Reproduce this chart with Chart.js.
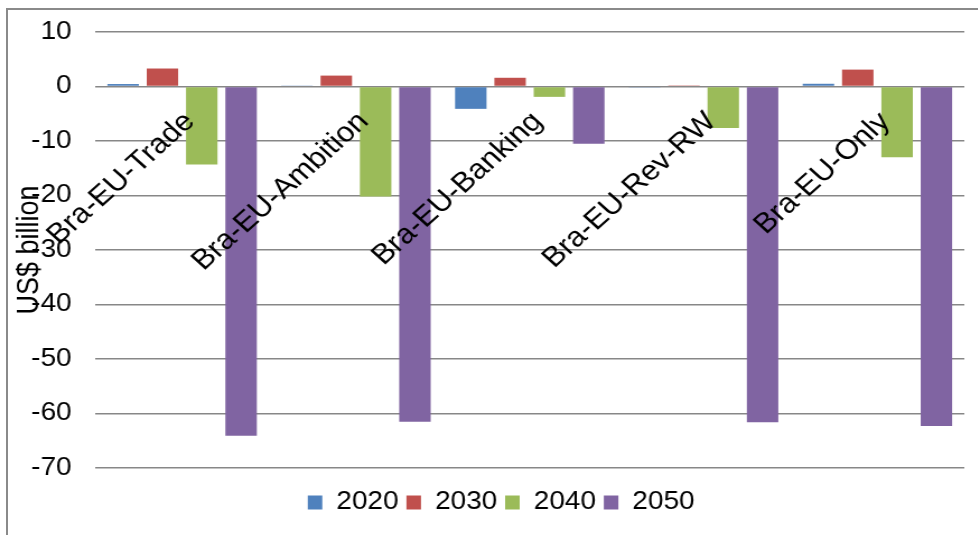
<!DOCTYPE html>
<html>
<head>
<meta charset="utf-8">
<script src="https://cdn.jsdelivr.net/npm/chart.js@4"></script>
<style>
    html, body { margin: 0; padding: 0; background: #fff; overflow: hidden; }
    #frame {
        position: absolute; left: 6px; top: 8px; width: 990px; height: 540px;
        border-left: 2px solid #8a8a8a; border-top: 2px solid #8a8a8a;
    }
    #chartBox {
        position: absolute; left: 0; top: 0; width: 873px; height: 535px;
        transform: scaleX(1.12); transform-origin: 0 0;
    }
</style>
</head>
<body>
<div id="frame"></div>
<div id="chartBox"><canvas id="scenarioChart" width="873" height="535"></canvas></div>
<script>
// Scenarios and yearly changes (US$ billion)
const scenarios = ['Bra-EU-Trade', 'Bra-EU-Ambition', 'Bra-EU-Banking', 'Bra-EU-Rev-RW', 'Bra-EU-Only'];
const years = ['2020', '2030', '2040', '2050'];
const values2020 = [0.45, 0.1, -4.1, -0.1, 0.5];
const values2030 = [3.3, 2.0, 1.6, 0.2, 3.1];
const values2040 = [-14.3, -20.2, -1.9, -7.6, -13.0];
const values2050 = [-64.1, -61.5, -10.5, -61.6, -62.3];
const yTicks = [10, 0, -10, -20, -30, -40, -50, -60, -70];

const seriesColors = ['#4F81BD', '#C0504D', '#9BBB59', '#8064A2'];
const fontFamily = '"Liberation Sans", Arial, sans-serif';

// Vertical axis title, drawn over the tick column
const yTitlePlugin = {
    id: 'yTitle',
    afterDraw(chart) {
        const { ctx, chartArea } = chart;
        ctx.save();
        ctx.translate(27, (chartArea.top + chartArea.bottom) / 2);
        ctx.rotate(-Math.PI / 2);
        ctx.font = '27px ' + fontFamily;
        ctx.fillStyle = '#000';
        ctx.textAlign = 'center';
        ctx.textBaseline = 'middle';
        ctx.fillText('US$ billion', 0, 0);
        ctx.restore();
    }
};

// Move the legend row a little lower and to the right of the canvas centre
const legendOffsetPlugin = {
    id: 'legendOffset',
    afterLayout(chart) {
        const lg = chart.legend;
        if (lg) {
            lg.top += 15;
            lg.bottom += 15;
            lg.left += 17;
            lg.right += 17;
        }
    }
};

const ctx = document.getElementById('scenarioChart').getContext('2d');
new Chart(ctx, {
    type: 'bar',
    data: {
        labels: scenarios,
        datasets: [values2020, values2030, values2040, values2050].map((vals, i) => ({
            label: years[i],
            data: vals,
            backgroundColor: seriesColors[i],
            borderWidth: 0,
            categoryPercentage: 0.905,
            barPercentage: 0.8
        }))
    },
    options: {
        responsive: false,
        animation: false,
        layout: { padding: { left: 0, right: 12, top: 32, bottom: 25 } },
        plugins: {
            legend: {
                position: 'bottom',
                labels: {
                    boxWidth: 13,
                    boxHeight: 14,
                    padding: 7,
                    color: '#000',
                    font: { family: fontFamily, size: 25 }
                }
            },
            tooltip: { enabled: false }
        },
        scales: {
            x: {
                position: { y: 0 },
                grid: { display: false },
                border: { display: false },
                ticks: {
                    autoSkip: false,
                    minRotation: 45,
                    maxRotation: 45,
                    padding: 11,
                    labelOffset: 7,
                    z: 1,
                    color: '#000',
                    font: { family: fontFamily, size: 28 }
                }
            },
            y: {
                min: -70,
                max: 10,
                afterFit(scale) {
                    scale.width = 85;
                    scale.paddingTop = 0;
                    scale.paddingBottom = 0;
                },
                afterBuildTicks(scale) { scale.ticks = yTicks.map(v => ({ value: v })); },
                grid: { color: '#878787', lineWidth: 1.5, drawTicks: false },
                border: { display: false },
                ticks: {
                    padding: 21,
                    color: '#000',
                    font: { family: fontFamily, size: 25 },
                    callback: (value) => String(value)
                }
            }
        }
    },
    plugins: [yTitlePlugin, legendOffsetPlugin]
});
</script>
</body>
</html>
